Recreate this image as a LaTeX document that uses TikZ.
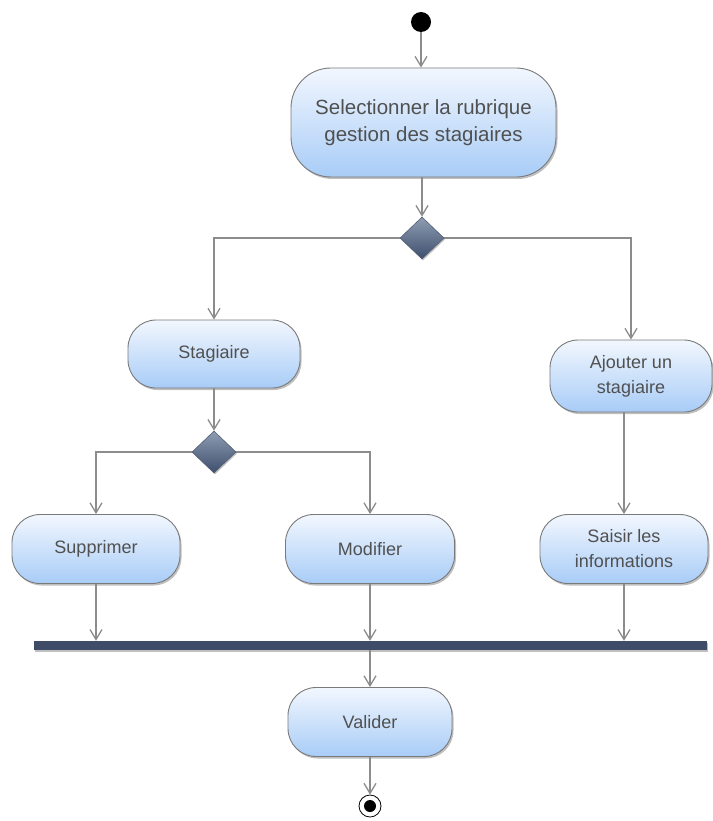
\documentclass[tikz,border=0pt]{standalone}
\usepackage{fontspec}
\setmainfont{Liberation Sans}
\usetikzlibrary{shapes.geometric,arrows.meta,shadows}
\definecolor{linegray}{HTML}{8C8C8C}
\definecolor{boxtop}{HTML}{F2F7FE}
\definecolor{boxbot}{HTML}{A8CCF7}
\definecolor{boxedge}{HTML}{7A7A7A}
\definecolor{txtgray}{HTML}{505050}
\definecolor{dtop}{HTML}{8E9DB2}
\definecolor{dbot}{HTML}{3E4F6E}
\definecolor{barcol}{HTML}{3E4C67}
\tikzset{
  action/.style={draw=boxedge, line width=0.9pt, rounded corners=28pt,
    top color=boxtop, bottom color=boxbot, text=txtgray,
    align=center, inner sep=0pt, font=\fontsize{18}{25}\selectfont,
    drop shadow={shadow xshift=1.5pt, shadow yshift=-2pt, opacity=0.25, fill=black}},
  decision/.style={diamond, draw=dbot!70!gray, line width=0.6pt,
    top color=dtop, bottom color=dbot, minimum width=44pt, minimum height=42pt,
    inner sep=0pt, drop shadow={shadow xshift=1pt, shadow yshift=-1.5pt, opacity=0.25, fill=black}},
  flow/.style={draw=linegray, line width=1.3pt,
    -{Straight Barb[length=10pt,width=12pt,line width=1.3pt]}},
}
\begin{document}
\begin{tikzpicture}[x=1pt,y=-1pt]
\useasboundingbox (0,0) rectangle (712,821);

% initial node
\node[circle, fill=black, minimum size=20pt, inner sep=0pt] (start) at (421,22) {};

% actions
\node[action, minimum width=265pt, minimum height=109pt, rounded corners=40pt,
      font=\fontsize{20.5}{27}\selectfont] (sel) at (423.5,122.5)
  {Selectionner la rubrique\\gestion des stagiaires};
\node[action, minimum width=172pt, minimum height=68pt] (stag) at (214,354) {Stagiaire};
\node[action, minimum width=162pt, minimum height=72pt] (ajout) at (631,376) {Ajouter un\\stagiaire};
\node[action, minimum width=168pt, minimum height=69pt] (supp) at (96,549) {Supprimer};
\node[action, minimum width=169pt, minimum height=69pt] (modif) at (370,549) {Modifier};
\node[action, minimum width=168pt, minimum height=69pt] (saisir) at (624,549) {Saisir les\\informations};
\node[action, minimum width=164pt, minimum height=69pt] (valid) at (370,722) {Valider};

% decisions
\node[decision] (d1) at (422,238) {};
\node[decision] (d2) at (214,452) {};

% join bar
\node[rectangle, fill=barcol, minimum width=673pt, minimum height=9pt, inner sep=0pt,
      drop shadow={shadow xshift=1pt, shadow yshift=-1.5pt, opacity=0.25, fill=black}] (bar) at (370.5,645.5) {};

% final node
\node[circle, draw=black, fill=white, line width=0.8pt, minimum size=22pt, inner sep=0pt] (stop) at (370,806) {};
\node[circle, fill=black, minimum size=12pt, inner sep=0pt] (stopin) at (stop.center) {};

% connectors
\draw[flow] (start) -- (sel.north -| start);
\draw[flow] (sel.south -| d1) -- (d1.north);
\draw[flow] (d1.west) -| (stag.north);
\draw[flow] (d1.east) -| (ajout.north);
\draw[flow] (stag.south -| d2) -- (d2.north);
\draw[flow] (d2.west) -| (supp.north);
\draw[flow] (d2.east) -| (modif.north);
\draw[flow] (ajout.south -| saisir.north) -- (saisir.north);
\draw[flow] (supp.south) -- (supp.south |- bar.north);
\draw[flow] (modif.south) -- (modif.south |- bar.north);
\draw[flow] (saisir.south) -- (saisir.south |- bar.north);
\draw[flow] (bar.south -| valid.north) -- (valid.north);
\draw[flow] (valid.south) -- (stop.north);
\end{tikzpicture}
\end{document}
